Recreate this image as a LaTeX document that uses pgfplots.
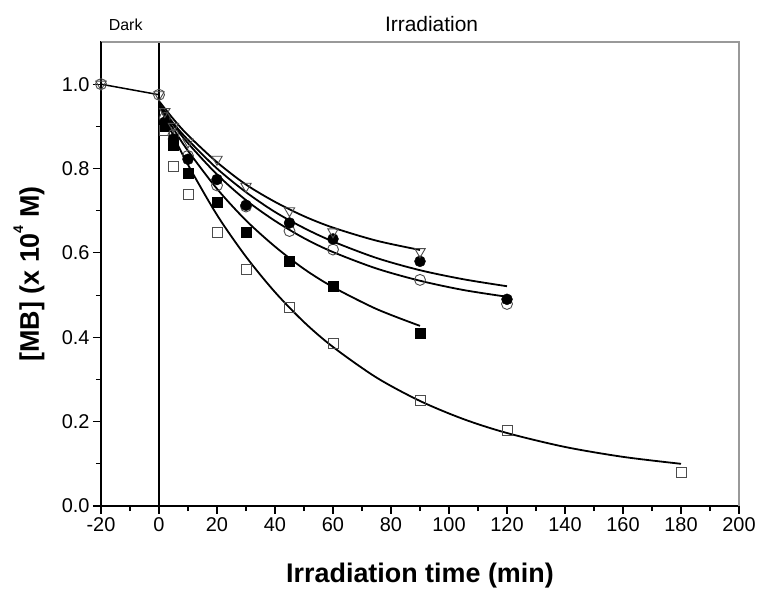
\documentclass[border=0pt]{standalone}
\usepackage{fontspec}
\setmainfont{Liberation Sans}
\usepackage{pgfplots}
\pgfplotsset{compat=1.18}
\begin{document}
\begin{tikzpicture}
\path[use as bounding box] (-101bp,-84bp) rectangle (662bp,506bp);
\begin{axis}[
  at={(0,0)}, anchor=south west,
  scale only axis, width=638bp, height=464bp,
  xmin=-20, xmax=200, ymin=0, ymax=1.1,
  clip=false,
  xtick={-20,0,20,40,60,80,100,120,140,160,180,200},
  ytick={0,0.2,0.4,0.6,0.8,1.0},
  minor x tick num=1, minor y tick num=1,
  tick align=outside, tick pos=left,
  major tick length=8bp, minor tick length=5bp,
  every tick/.style={black, line width=1.1bp},
  axis line style={line width=1.1bp},
  /pgf/number format/assume math mode=true,
  yticklabel style={/pgf/number format/fixed,/pgf/number format/fixed zerofill,/pgf/number format/precision=1},
  tick label style={font=\fontsize{20}{21}\selectfont},
  xlabel={\bfseries Irradiation time (min)},
  ylabel={\bfseries [MB] (x 10\raisebox{1.1ex}{\fontsize{14}{14}\selectfont 4} M)},
  xlabel style={font=\fontsize{27}{28}\selectfont, at={(axis description cs:0.5,0)}, anchor=center, yshift=-70bp},
  ylabel style={font=\fontsize{27}{28}\selectfont, at={(axis description cs:0,0.5)}, anchor=center, yshift=72bp},
]
% dark period line
\addplot[black, line width=1.5bp] coordinates {(-20,1.0) (0,0.975)};
% fitted curves
\addplot[black, line width=1.8bp, smooth] coordinates {
(0,0.96) (5,0.917) (10,0.879) (20,0.815) (30,0.762) (40,0.721) (50,0.687) (60,0.66) (75,0.629) (90,0.607)};
\addplot[black, line width=1.8bp, smooth] coordinates {
(0,0.955) (5,0.907) (10,0.868) (20,0.80) (30,0.744) (40,0.697) (50,0.659) (60,0.627) (75,0.588) (90,0.559) (105,0.5375) (120,0.521)};
\addplot[black, line width=1.8bp, smooth] coordinates {
(0,0.95) (5,0.903) (10,0.86) (20,0.786) (30,0.725) (40,0.676) (50,0.635) (60,0.602) (75,0.563) (90,0.534) (105,0.512) (120,0.496)};
\addplot[black, line width=1.8bp, smooth] coordinates {
(0,0.95) (5,0.894) (10,0.842) (20,0.752) (30,0.677) (40,0.615) (50,0.562) (60,0.519) (75,0.467) (90,0.427)};
\addplot[black, line width=1.8bp, smooth] coordinates {
(0,0.95) (5,0.877) (10,0.809) (20,0.69) (30,0.591) (40,0.507) (50,0.436) (60,0.377) (75,0.3045) (90,0.249) (105,0.206) (120,0.173) (140,0.140) (160,0.1165) (180,0.10)};
% data markers
\addplot[only marks, mark=square, mark size=5bp, mark options={draw=black!70, fill=white, line width=0.9bp}] coordinates {
(2,0.89) (5,0.806) (10,0.739) (20,0.648) (30,0.561) (45,0.471) (60,0.386) (90,0.251) (120,0.18) (180,0.08)};
\addplot[only marks, mark=square*, mark size=5bp, mark options={draw=black, fill=black}] coordinates {
(2,0.90) (5,0.855) (10,0.79) (20,0.72) (30,0.65) (45,0.581) (60,0.52) (90,0.409)};
\addplot[only marks, mark=o, mark size=5.5bp, mark options={draw=black!70, fill=white, line width=0.9bp}] coordinates {
(-20,1.0) (0,0.975) (2,0.92) (5,0.88) (10,0.83) (20,0.76) (30,0.71) (45,0.652) (60,0.608) (90,0.536) (120,0.479)};
\addplot[only marks, mark=*, mark size=5.5bp, mark options={draw=black, fill=black}] coordinates {
(2,0.91) (5,0.87) (10,0.822) (20,0.774) (30,0.713) (45,0.671) (60,0.633) (90,0.58) (120,0.49)};
\addplot[only marks, mark=triangle, mark size=6bp, mark options={draw=black!70, fill=white, line width=0.9bp, rotate=180}] coordinates {
(-20,1.0) (0,0.975) (2,0.935) (5,0.90) (10,0.863) (20,0.822) (30,0.758) (45,0.70) (60,0.65) (90,0.603)};
% vertical separator and gray frame
\draw[black, line width=1.1bp] (axis cs:0,0) -- (axis cs:0,1.1);
\draw[black!40, line width=1.2bp] (rel axis cs:0,1) -- (rel axis cs:1,1) -- (rel axis cs:1,0);
\draw[black, line width=1.1bp] (rel axis cs:0,0) -- (rel axis cs:0,1);
\node[font=\fontsize{16}{16}\selectfont] at (axis cs:-11.5,1.1) [yshift=17bp] {Dark};
\node[font=\fontsize{21}{21}\selectfont] at (axis cs:94,1.1) [yshift=18bp] {Irradiation};
\end{axis}
\end{tikzpicture}
\end{document}
